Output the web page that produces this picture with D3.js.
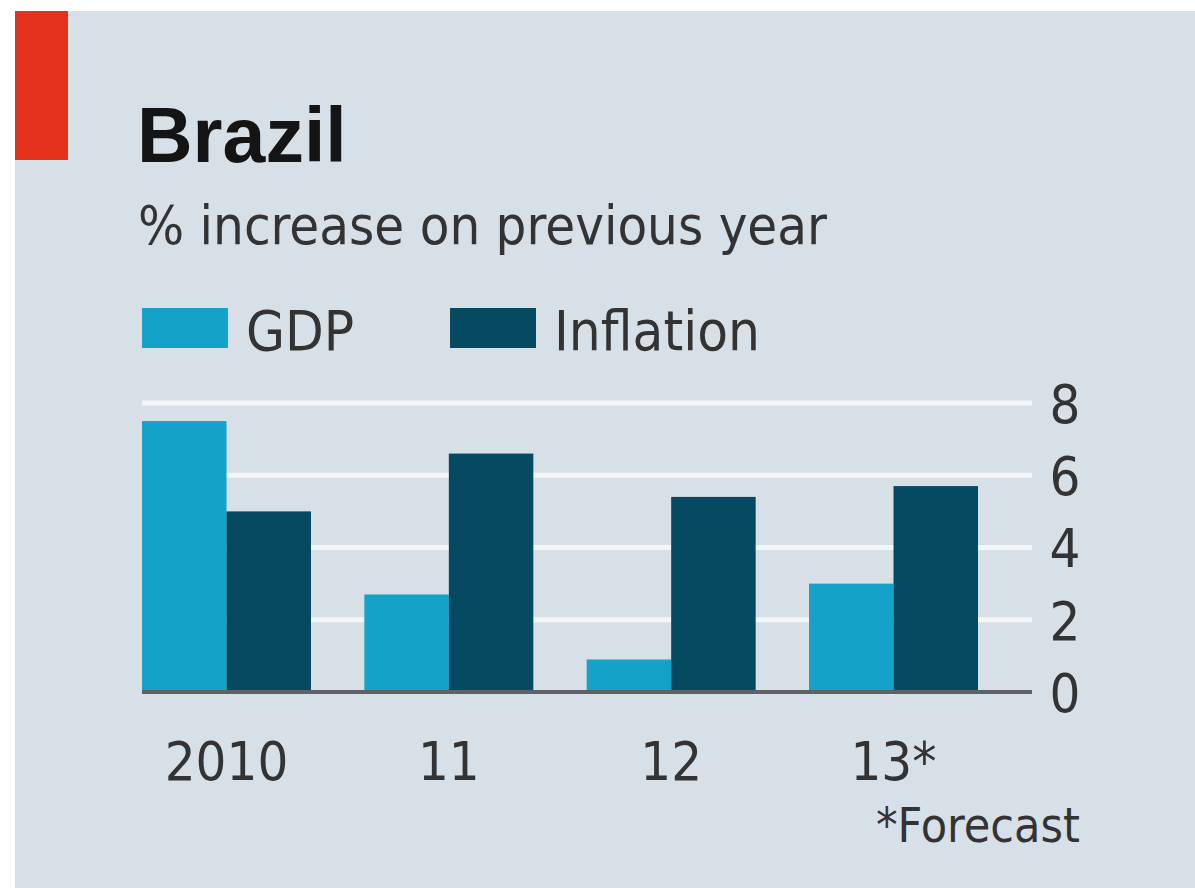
<!DOCTYPE html>
<html>
<head>
<meta charset="utf-8">
<script src="https://cdn.jsdelivr.net/npm/d3@7"></script>
<style>
  body { margin: 0; background: #fff; }
  svg { display: block; }
</style>
</head>
<body>
<svg id="chart"></svg>
<script>
const years = ["2010", "11", "12", "13*"];
const gdp = [7.5, 2.7, 0.9, 3.0];
const inflation = [5.0, 6.6, 5.4, 5.7];
const seriesNames = ["GDP", "Inflation"];
const yTicks = [0, 2, 4, 6, 8];

const narrow = "'Liberation Sans Narrow', 'DejaVu Sans Condensed', 'Liberation Sans', sans-serif";
const colors = { GDP: "#14a2c9", Inflation: "#064a61" };

const width = 1195, height = 888;
const svg = d3.select("#chart")
    .attr("width", width)
    .attr("height", height);

// panel background
svg.append("rect")
    .attr("x", 15).attr("y", 11)
    .attr("width", width - 15).attr("height", height - 11)
    .attr("fill", "#d7e0e6");

// red tag
svg.append("rect")
    .attr("x", 15).attr("y", 11)
    .attr("width", 53).attr("height", 149)
    .attr("fill", "#e5321d");

svg.append("text")
    .attr("x", 137).attr("y", 162)
    .style("font-family", "'Liberation Sans', sans-serif")
    .style("font-weight", "bold")
    .style("font-size", "77px")
    .attr("fill", "#141414")
    .text("Brazil");

svg.append("text")
    .attr("x", 138).attr("y", 244)
    .style("font-family", narrow)
    .style("font-size", "54px")
    .attr("fill", "#333")
    .text("% increase on previous year");

// legend
const legendX = [142, 450];
seriesNames.forEach((name, i) => {
    svg.append("rect")
        .attr("x", legendX[i]).attr("y", 308)
        .attr("width", 86).attr("height", 40)
        .attr("fill", colors[name]);
    svg.append("text")
        .attr("x", legendX[i] + 104).attr("y", 350)
        .style("font-family", narrow)
        .style("font-size", "56px")
        .attr("fill", "#333")
        .text(name);
});

// scales
const x0 = d3.scaleBand()
    .domain(years)
    .range([142, 978])
    .paddingInner(0.24)
    .paddingOuter(0);

const x1 = d3.scaleBand()
    .domain(seriesNames)
    .range([0, x0.bandwidth()]);

const y = d3.scaleLinear()
    .domain([0, 8])
    .range([692, 403]);

const gridRight = 1032;

// gridlines
svg.append("g")
    .selectAll("line")
    .data(yTicks.filter(d => d > 0))
    .enter().append("line")
    .attr("x1", 142).attr("x2", gridRight)
    .attr("y1", d => y(d)).attr("y2", d => y(d))
    .attr("stroke", "#f4f7f9")
    .attr("stroke-width", 5);

// bars
const rows = years.map((yr, i) => ({ year: yr, values: [gdp[i], inflation[i]] }));

const groups = svg.append("g")
    .selectAll("g")
    .data(rows)
    .enter().append("g")
    .attr("transform", d => `translate(${x0(d.year)},0)`);

groups.selectAll("rect")
    .data(d => d.values.map((v, j) => ({ key: seriesNames[j], value: v })))
    .enter().append("rect")
    .attr("x", d => x1(d.key))
    .attr("width", x1.bandwidth())
    .attr("y", d => y(d.value))
    .attr("height", d => y(0) - y(d.value))
    .attr("fill", d => colors[d.key]);

// zero line
svg.append("line")
    .attr("x1", 142).attr("x2", gridRight)
    .attr("y1", y(0)).attr("y2", y(0))
    .attr("stroke", "#5e6266")
    .attr("stroke-width", 4);

// y axis labels on the right
const yAxis = d3.axisRight(y)
    .tickValues(yTicks)
    .tickSize(0)
    .tickPadding(0)
    .tickFormat(d3.format("d"));

const yg = svg.append("g")
    .attr("transform", `translate(1065,0)`)
    .call(yAxis);
yg.select(".domain").remove();
yg.selectAll("text")
    .attr("text-anchor", "middle")
    .attr("x", 0)
    .attr("dy", "0.36em")
    .style("font-family", narrow)
    .style("font-size", "54px")
    .attr("fill", "#333");

// x axis labels
const xAxis = d3.axisBottom(x0).tickSize(0).tickPadding(0);
const xg = svg.append("g")
    .attr("transform", `translate(0,780)`)
    .call(xAxis);
xg.select(".domain").remove();
xg.selectAll("text")
    .attr("y", 0)
    .attr("dy", 0)
    .style("font-family", narrow)
    .style("font-size", "54px")
    .attr("fill", "#333");

svg.append("text")
    .attr("x", 1080).attr("y", 842)
    .attr("text-anchor", "end")
    .style("font-family", narrow)
    .style("font-size", "48px")
    .attr("fill", "#333")
    .text("*Forecast");
</script>
</body>
</html>
